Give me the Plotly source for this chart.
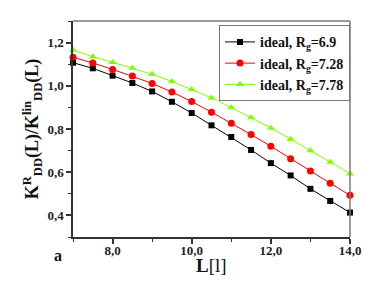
import plotly.graph_objects as go

L = [7.0, 7.5, 8.0, 8.5, 9.0, 9.5, 10.0, 10.5, 11.0, 11.5, 12.0, 12.5, 13.0, 13.5, 14.0]
k_69 = [1.107, 1.081, 1.047, 1.013, 0.974, 0.926, 0.874, 0.817, 0.763, 0.703, 0.642, 0.585, 0.523, 0.467, 0.413]
k_728 = [1.132, 1.106, 1.076, 1.045, 1.011, 0.971, 0.927, 0.878, 0.827, 0.774, 0.720, 0.662, 0.605, 0.549, 0.493]
k_778 = [1.166, 1.134, 1.109, 1.082, 1.053, 1.020, 0.983, 0.944, 0.899, 0.853, 0.805, 0.753, 0.701, 0.647, 0.593]
names = ["ideal, R<sub>g</sub>=6.9", "ideal, R<sub>g</sub>=7.28", "ideal, R<sub>g</sub>=7.78"]

FONT = "Liberation Serif"
fig = go.Figure()
styles = [("#000000", "square", 6), ("#ff0000", "circle", 7), ("#7fff00", "triangle-up", 7)]
for y, name, (c, sym, sz) in zip([k_69, k_728, k_778], names, styles):
    fig.add_trace(go.Scatter(
        x=L, y=y, mode="lines+markers", name=name,
        line=dict(color=c, width=1),
        marker=dict(color=c, symbol=sym, size=sz),
        cliponaxis=False,
    ))

axis_common = dict(
    showline=True, linecolor="#333333", linewidth=1.5,
    ticks="outside", ticklen=5, tickwidth=1.5, tickcolor="#333333",
    showgrid=False, zeroline=False, automargin=False,
    tickfont=dict(family=FONT, size=13, color="#222222", weight="bold"),
    tickformat=".1f",
)
fig.update_xaxes(
    range=[7, 14], dtick=2, tick0=8, ticklabelstandoff=-4,
    minor=dict(ticks="outside", ticklen=3, dtick=1, tickcolor="#333333", tickwidth=1),
    **axis_common,
)
fig.update_yaxes(
    range=[0.3, 1.3], dtick=0.2, tick0=0.4,
    minor=dict(ticks="outside", ticklen=3, dtick=0.1, tickcolor="#333333", tickwidth=1),
    title=dict(text="<b>K<sup>R</sup><sub>DD</sub>(L)/K<sup>lin</sup><sub>DD</sub>(L)</b>",
               font=dict(family=FONT, size=18, color="#111111"), standoff=4),
    **axis_common,
)
# top and right frame
fig.add_shape(type="line", xref="paper", yref="paper", x0=0, x1=1, y0=1, y1=1,
              line=dict(color="#777777", width=1.5))
fig.add_shape(type="line", xref="paper", yref="paper", x0=1, x1=1, y0=0, y1=1,
              line=dict(color="#777777", width=1.5))
fig.add_annotation(text="<b>L</b>[l]", xref="paper", yref="paper", x=0.5, y=-0.13,
                   xanchor="center", yanchor="middle",
                   showarrow=False, font=dict(family=FONT, size=19, color="#111111"))
fig.add_annotation(text="<b>a</b>", xref="paper", yref="paper", x=-0.055, y=-0.085,
                   xanchor="center", yanchor="middle",
                   showarrow=False, font=dict(family=FONT, size=16, color="#111111"))

fig.update_layout(
    width=381, height=295,
    margin=dict(l=73, r=31, t=21, b=58),
    paper_bgcolor="white", plot_bgcolor="white",
    separators=",.",
    legend=dict(x=1, y=0.98, xanchor="right", yanchor="top",
                bordercolor="#777777", borderwidth=1, bgcolor="white",
                font=dict(family=FONT, size=14, color="#111111", weight="bold"),
                tracegroupgap=0, itemwidth=30),
    font=dict(family=FONT),
)
fig.write_html("out.html", config={"displayModeBar": False},
               post_script="document.body.style.margin='0px';")
